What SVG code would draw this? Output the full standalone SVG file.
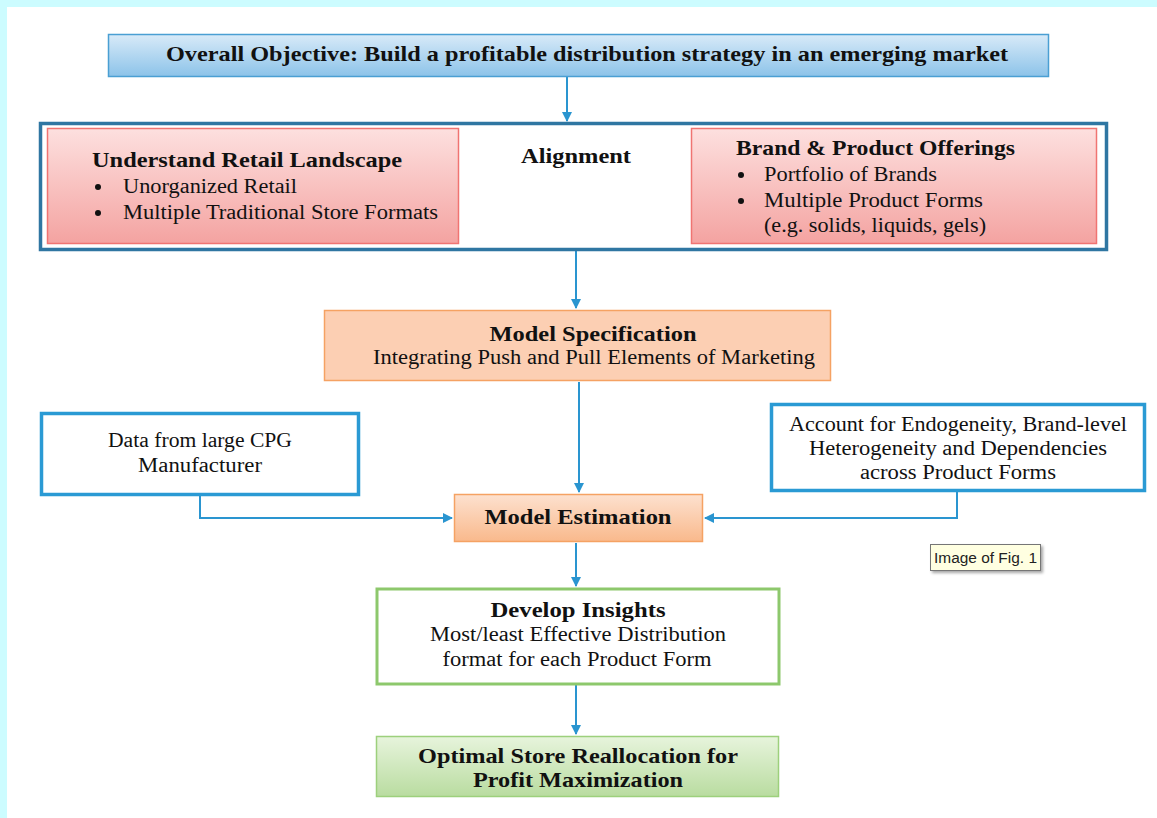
<svg xmlns="http://www.w3.org/2000/svg" width="1157" height="818" viewBox="0 0 1157 818">
<style>
.t{font-family:"Liberation Serif","Times New Roman",serif;fill:#111;}
.b{font-weight:bold;font-size:21px;}
.r{font-size:20px;}
.c{text-anchor:middle;}
.conn{fill:none;stroke:#2a95d0;stroke-width:2;}
</style>
<defs>
<linearGradient id="gBlue" x1="0" y1="0" x2="0" y2="1"><stop offset="0" stop-color="#d8eaf8"/><stop offset="1" stop-color="#8cc3e9"/></linearGradient>
<linearGradient id="gRed" x1="0" y1="0" x2="0" y2="1"><stop offset="0" stop-color="#fde0df"/><stop offset="1" stop-color="#f4a3a1"/></linearGradient>
<linearGradient id="gPeach" x1="0" y1="0" x2="0" y2="1"><stop offset="0" stop-color="#fde1cf"/><stop offset="1" stop-color="#f9b98c"/></linearGradient>
<linearGradient id="gGreen" x1="0" y1="0" x2="0" y2="1"><stop offset="0" stop-color="#e7f4dc"/><stop offset="1" stop-color="#b9dca0"/></linearGradient>
<marker id="ah" markerWidth="10" markerHeight="10" refX="9" refY="5" orient="auto" markerUnits="userSpaceOnUse"><path d="M0,0 L10,5 L0,10 Z" fill="#2a95d0"/></marker>
<marker id="ahs" markerWidth="10" markerHeight="10" refX="1" refY="5" orient="auto" markerUnits="userSpaceOnUse"><path d="M10,0 L0,5 L10,10 Z" fill="#2a95d0"/></marker>
<filter id="sh" x="-10%" y="-10%" width="130%" height="150%"><feDropShadow dx="2" dy="2" stdDeviation="1.5" flood-color="#000" flood-opacity="0.35"/></filter>
</defs>
<rect x="0" y="0" width="1157" height="818" fill="#ccfcff"/>
<rect x="7" y="7" width="1150" height="811" fill="#ffffff"/>

<g id="connectors">
<line class="conn" x1="567" y1="77" x2="567" y2="121" marker-end="url(#ah)"/>
<line class="conn" x1="462" y1="189" x2="689" y2="189" marker-start="url(#ahs)" marker-end="url(#ah)"/>
<line class="conn" x1="576" y1="250" x2="576" y2="308" marker-end="url(#ah)"/>
<line class="conn" x1="579" y1="382" x2="579" y2="492" marker-end="url(#ah)"/>
<path class="conn" d="M200,496 V518 H452" marker-end="url(#ah)"/>
<path class="conn" d="M957,492 V518 H705" marker-end="url(#ah)"/>
<line class="conn" x1="576" y1="543" x2="576" y2="586" marker-end="url(#ah)"/>
<line class="conn" x1="576" y1="685" x2="576" y2="734" marker-end="url(#ah)"/>
</g>

<g id="objective">
<rect x="108.5" y="34.5" width="940" height="42" fill="url(#gBlue)" stroke="#4a9fd3" stroke-width="1.5"/>
<text class="t b c" x="587" y="61" textLength="842" lengthAdjust="spacingAndGlyphs">Overall Objective: Build a profitable distribution strategy in an emerging market</text>
</g>

<g id="alignment-group">
<rect x="40.5" y="123.5" width="1066" height="126" fill="#ffffff" stroke="#2f76a2" stroke-width="3.5"/>
<text class="t b c" x="576" y="163" textLength="110" lengthAdjust="spacingAndGlyphs">Alignment</text>
</g>

<g id="retail">
<rect x="47.5" y="128.5" width="411" height="115" fill="url(#gRed)" stroke="#f07472" stroke-width="1.5"/>
<text class="t b" x="92" y="167" textLength="310" lengthAdjust="spacingAndGlyphs">Understand Retail Landscape</text>
<circle cx="98" cy="187" r="3" fill="#111"/>
<text class="t r" x="123" y="193" textLength="174" lengthAdjust="spacingAndGlyphs">Unorganized Retail</text>
<circle cx="98" cy="213" r="3" fill="#111"/>
<text class="t r" x="123" y="219" textLength="315" lengthAdjust="spacingAndGlyphs">Multiple Traditional Store Formats</text>
</g>

<g id="brand">
<rect x="691.5" y="128.5" width="405" height="115" fill="url(#gRed)" stroke="#f07472" stroke-width="1.5"/>
<text class="t b" x="736" y="155" textLength="279" lengthAdjust="spacingAndGlyphs">Brand &amp; Product Offerings</text>
<circle cx="741" cy="175" r="3" fill="#111"/>
<text class="t r" x="764" y="181" textLength="173" lengthAdjust="spacingAndGlyphs">Portfolio of Brands</text>
<circle cx="741" cy="201" r="3" fill="#111"/>
<text class="t r" x="764" y="207" textLength="219" lengthAdjust="spacingAndGlyphs">Multiple Product Forms</text>
<text class="t r" x="764" y="232" textLength="222" lengthAdjust="spacingAndGlyphs">(e.g. solids, liquids, gels)</text>
</g>

<g id="model-spec">
<rect x="324.5" y="310.5" width="506" height="70" fill="#fccfb3" stroke="#f5a263" stroke-width="1.5"/>
<text class="t b c" x="593" y="341" textLength="207" lengthAdjust="spacingAndGlyphs">Model Specification</text>
<text class="t r c" x="594" y="364" textLength="442" lengthAdjust="spacingAndGlyphs">Integrating Push and Pull Elements of Marketing</text>
</g>

<g id="data">
<rect x="41.5" y="413.5" width="317" height="81" fill="#ffffff" stroke="#2a9ad4" stroke-width="3.5"/>
<text class="t r c" x="200" y="447" textLength="184" lengthAdjust="spacingAndGlyphs">Data from large CPG</text>
<text class="t r c" x="200" y="472" textLength="124" lengthAdjust="spacingAndGlyphs">Manufacturer</text>
</g>

<g id="account">
<rect x="771.5" y="404.5" width="373" height="86" fill="#ffffff" stroke="#2a9ad4" stroke-width="3.5"/>
<text class="t r c" x="958" y="431" textLength="338" lengthAdjust="spacingAndGlyphs">Account for Endogeneity, Brand-level</text>
<text class="t r c" x="958" y="455" textLength="298" lengthAdjust="spacingAndGlyphs">Heterogeneity and Dependencies</text>
<text class="t r c" x="958" y="479" textLength="196" lengthAdjust="spacingAndGlyphs">across Product Forms</text>
</g>

<g id="model-est">
<rect x="454.5" y="494.5" width="248" height="47" fill="url(#gPeach)" stroke="#f5a263" stroke-width="1.5"/>
<text class="t b c" x="578" y="524" textLength="187" lengthAdjust="spacingAndGlyphs">Model Estimation</text>
</g>

<g id="tooltip">
<rect x="930.5" y="544.5" width="110" height="26" fill="#ffffe1" stroke="#767676" stroke-width="1" filter="url(#sh)"/>
<text x="934" y="563" font-family="'Liberation Sans',Arial,sans-serif" font-size="14" fill="#222" textLength="103" lengthAdjust="spacingAndGlyphs">Image of Fig. 1</text>
</g>

<g id="insights">
<rect x="377" y="589" width="402" height="95" fill="#ffffff" stroke="#8dc86c" stroke-width="3"/>
<text class="t b c" x="578" y="617" textLength="175" lengthAdjust="spacingAndGlyphs">Develop Insights</text>
<text class="t r c" x="578" y="641" textLength="296" lengthAdjust="spacingAndGlyphs">Most/least Effective Distribution</text>
<text class="t r c" x="577" y="666" textLength="269" lengthAdjust="spacingAndGlyphs">format for each Product Form</text>
</g>

<g id="optimal">
<rect x="376.5" y="736.5" width="402" height="60" fill="url(#gGreen)" stroke="#9dd07c" stroke-width="1.5"/>
<text class="t b c" x="578" y="763" textLength="320" lengthAdjust="spacingAndGlyphs">Optimal Store Reallocation for</text>
<text class="t b c" x="578" y="787" textLength="210" lengthAdjust="spacingAndGlyphs">Profit Maximization</text>
</g>
</svg>
